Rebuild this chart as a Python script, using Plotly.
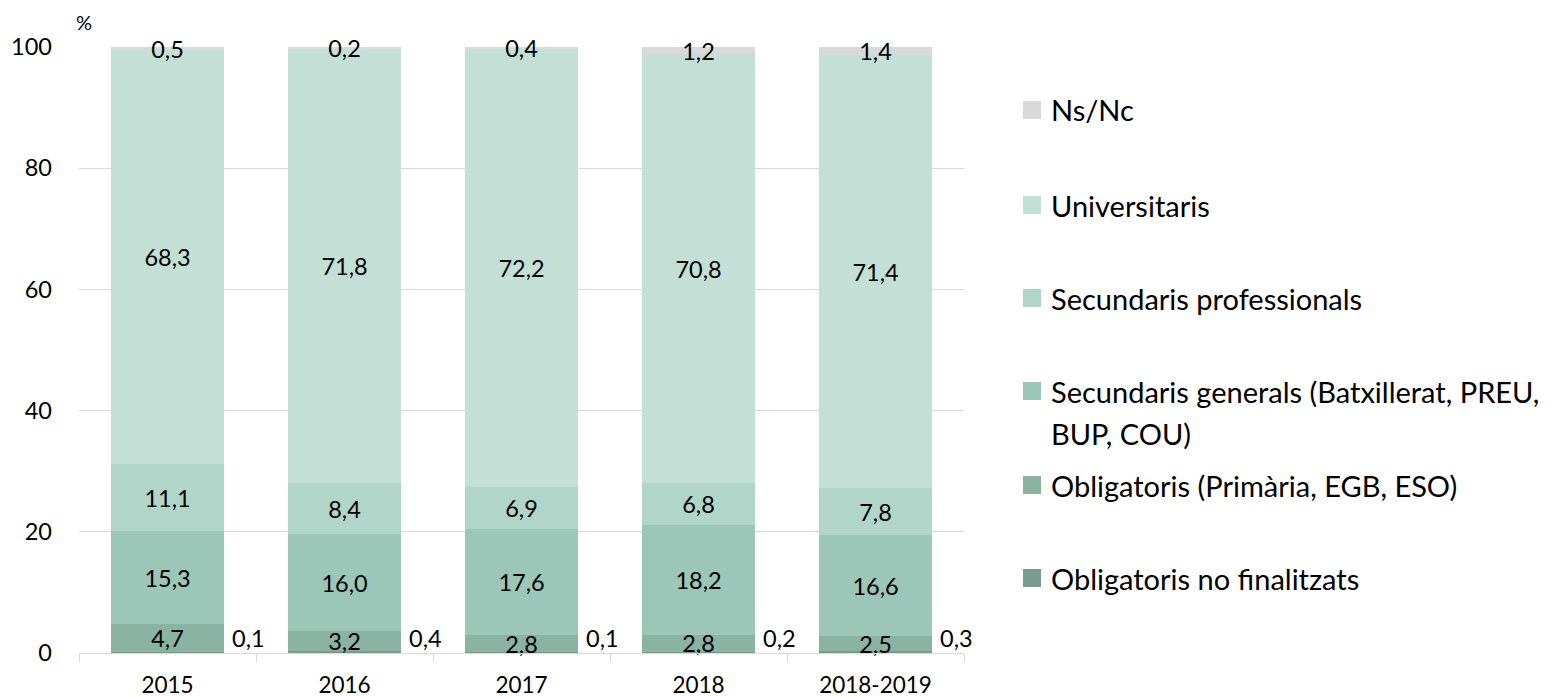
import plotly.graph_objects as go

categories = ["2015", "2016", "2017", "2018", "2018-2019"]

series_names = [
    "Obligatoris no finalitzats",
    "Obligatoris (Primària, EGB, ESO)",
    "Secundaris generals (Batxillerat, PREU, BUP, COU)",
    "Secundaris professionals",
    "Universitaris",
    "Ns/Nc",
]
obligatoris_no_finalitzats = [0.1, 0.4, 0.1, 0.2, 0.3]
obligatoris = [4.7, 3.2, 2.8, 2.8, 2.5]
secundaris_generals = [15.3, 16.0, 17.6, 18.2, 16.6]
secundaris_professionals = [11.1, 8.4, 6.9, 6.8, 7.8]
universitaris = [68.3, 71.8, 72.2, 70.8, 71.4]
ns_nc = [0.5, 0.2, 0.4, 1.2, 1.4]

series_values = [obligatoris_no_finalitzats, obligatoris, secundaris_generals,
                 secundaris_professionals, universitaris, ns_nc]
colors = ["#7a9c8e", "#8bb3a4", "#9cc6b7", "#b1d6c9", "#c4e0d6", "#d9d9d9"]

FONT = "Lato, 'Open Sans', sans-serif"
W, H = 1553, 698
L, R, T, B = 79, 589, 47, 45
PW, PH = W - L - R, H - T - B

xpos = list(range(len(categories)))

fig = go.Figure()
for i, (name, vals, col) in enumerate(zip(series_names, series_values, colors)):
    show_text = i != 0
    fig.add_trace(go.Bar(
        x=xpos, y=vals, name=name,
        marker=dict(color=col, line=dict(width=0)),
        text=[f"{v:.1f}".replace(".", ",") for v in vals] if show_text else None,
        textposition="inside" if show_text else "none",
        insidetextanchor="middle",
        textangle=0,
        constraintext="none",
        textfont=dict(family=FONT, size=23.5, color="#000000"),
        hoverinfo="skip",
        showlegend=False,
        cliponaxis=False,
    ))

# labels of the tiny bottom series, placed to the right of each bar
for xi, v in zip(xpos, obligatoris_no_finalitzats):
    fig.add_annotation(x=xi, y=0, xref="x", yref="y",
                       text=f"{v:.1f}".replace(".", ","), showarrow=False,
                       xanchor="left", yanchor="bottom", xshift=62, yshift=-1,
                       font=dict(family=FONT, size=23.5, color="#000000"))

def px_x(p):
    return (p - L) / PW

def px_y(p):
    return (H - B - p) / PH

# manual legend
legend_items = [
    ("Ns/Nc", colors[5], 110),
    ("Universitaris", colors[4], 205),
    ("Secundaris professionals", colors[3], 298),
    ("Secundaris generals (Batxillerat, PREU,", colors[2], 391),
    ("Obligatoris (Primària, EGB, ESO)", colors[1], 485),
    ("Obligatoris no finalitzats", colors[0], 578),
]
for text, col, yc in legend_items:
    fig.add_shape(type="rect", xref="paper", yref="paper",
                  x0=px_x(1023), x1=px_x(1041), y0=px_y(yc + 9), y1=px_y(yc - 9),
                  fillcolor=col, line=dict(width=0))
    fig.add_annotation(xref="paper", yref="paper", x=px_x(1049), y=px_y(yc),
                       text=text, showarrow=False, xanchor="left", yanchor="middle",
                       font=dict(family=FONT, size=29, color="#000000"))
fig.add_annotation(xref="paper", yref="paper", x=px_x(1049), y=px_y(433),
                   text="BUP, COU)", showarrow=False, xanchor="left", yanchor="middle",
                   font=dict(family=FONT, size=29, color="#000000"))

fig.add_annotation(xref="paper", yref="paper", x=px_x(84), y=px_y(22),
                   text="%", showarrow=False, xanchor="center", yanchor="middle",
                   font=dict(family=FONT, size=20, color="#000000"))

fig.update_layout(
    width=W, height=H,
    barmode="stack", bargap=0.356,
    separators=",.",
    plot_bgcolor="white", paper_bgcolor="white",
    margin=dict(l=L, r=R, t=T, b=B, pad=0, autoexpand=False),
    showlegend=False,
    font=dict(family=FONT, size=23, color="#000000"),
    xaxis=dict(
        range=[-0.5, len(categories) - 0.5], showgrid=False, zeroline=False,
        showline=True, linecolor="#d9d9d9", linewidth=1,
        tickvals=xpos, ticktext=categories, ticks="", ticklabelstandoff=12,
        minor=dict(tickvals=[i - 0.5 for i in range(len(categories) + 1)],
                   ticks="outside", ticklen=8, tickcolor="#d9d9d9", showgrid=False),
        tickfont=dict(family=FONT, size=22.5, color="#000000"),
        automargin=False, fixedrange=True,
    ),
    yaxis=dict(
        range=[0, 100.0001], tickvals=[0, 20, 40, 60, 80, 100], showgrid=True,
        gridcolor="#d9d9d9", gridwidth=1, zeroline=False, showline=False,
        ticks="", ticklabelstandoff=26,
        tickfont=dict(family=FONT, size=23.5, color="#000000"),
        automargin=False, fixedrange=True,
    ),
)

fig.write_html("out.html", config={"displayModeBar": False},
               post_script="document.body.style.margin='0';document.body.style.overflow='hidden';")
